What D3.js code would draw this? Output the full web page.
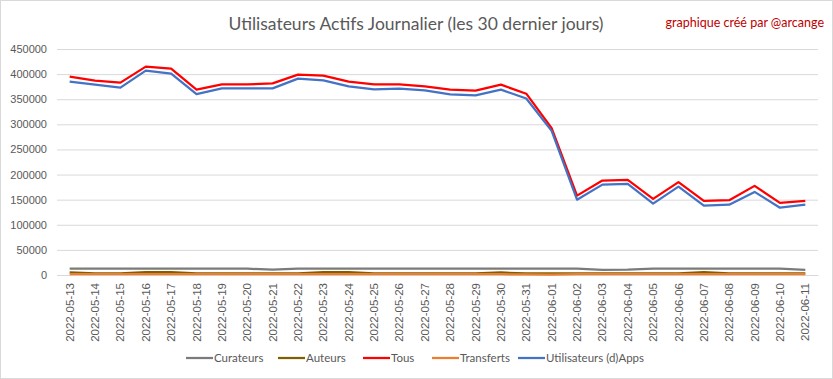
<!DOCTYPE html>
<html>
<head>
<meta charset="utf-8">
<script src="https://cdn.jsdelivr.net/npm/d3@7"></script>
<style>
  body { margin: 0; background: #fff; }
  svg { display: block; font-family: Lato, "Open Sans", sans-serif; }
</style>
</head>
<body>
<svg id="chart" width="833" height="379"></svg>
<script>
// dates on the x axis
const dates = [
  "2022-05-13","2022-05-14","2022-05-15","2022-05-16","2022-05-17","2022-05-18",
  "2022-05-19","2022-05-20","2022-05-21","2022-05-22","2022-05-23","2022-05-24",
  "2022-05-25","2022-05-26","2022-05-27","2022-05-28","2022-05-29","2022-05-30",
  "2022-05-31","2022-06-01","2022-06-02","2022-06-03","2022-06-04","2022-06-05",
  "2022-06-06","2022-06-07","2022-06-08","2022-06-09","2022-06-10","2022-06-11"
];

const curateurs = [12500,12500,12500,12500,12500,12500,12500,12500,10500,12500,12500,12500,
  12500,12500,12500,12500,12500,12500,12500,12500,12500,10000,10500,12500,
  12500,12500,12500,12500,12500,10000];
const auteurs = [5000,3000,3000,5500,5500,3000,3000,3000,3000,3000,5500,5500,
  3000,3000,3000,3000,3000,5000,3000,3000,3000,3000,3000,3000,
  3000,5500,3000,3000,3000,3000];
const tous = [395000,387000,383000,415000,411000,369000,379500,379500,381500,399000,397000,385000,
  379500,379500,375500,369000,367000,379000,361000,292500,158000,188000,189500,151500,
  185000,147500,149000,177500,143500,147500];
const transferts = [1500,1500,1500,1500,1500,1500,1500,1500,1500,1500,1500,1500,
  1500,1500,1500,1500,1500,1500,1000,500,1500,1500,1500,1500,
  1500,1500,1500,1500,1500,1500];
const utilisateurs = [385000,379000,373000,407000,401000,360000,371500,371500,371500,391000,387500,375500,
  369500,371000,367500,359500,357500,369000,351500,287000,150000,180000,181500,142000,
  176000,138000,140000,165500,134000,140000];

const yTicks = [0,50000,100000,150000,200000,250000,300000,350000,400000,450000];

const series = [
  { name: "Curateurs", values: curateurs, color: "#7b7b7b" },
  { name: "Auteurs", values: auteurs, color: "#7f6000" },
  { name: "Tous", values: tous, color: "#ff0000" },
  { name: "Transferts", values: transferts, color: "#ed7d31" },
  { name: "Utilisateurs (d)Apps", values: utilisateurs, color: "#4472c4" }
];

const svg = d3.select("#chart");
const W = 833, H = 379;
const margin = { top: 49, right: 15, bottom: 104, left: 57 };
const width = W - margin.left - margin.right;
const height = H - margin.top - margin.bottom;

// outer border
svg.append("rect")
  .attr("x", 0.5).attr("y", 0.5)
  .attr("width", W - 1).attr("height", H - 1)
  .attr("fill", "#fff").attr("stroke", "#d9d9d9");

svg.append("text")
  .attr("x", 416).attr("y", 30)
  .attr("text-anchor", "middle")
  .attr("fill", "#595959")
  .style("font-size", "17.5px")
  .text("Utilisateurs Actifs Journalier (les 30 dernier jours)");

svg.append("text")
  .attr("x", 824).attr("y", 27)
  .attr("text-anchor", "end")
  .attr("fill", "#c00000")
  .style("font-size", "12.5px")
  .text("graphique créé par @arcange");

const g = svg.append("g")
  .attr("transform", "translate(" + margin.left + "," + margin.top + ")");

const x = d3.scaleBand().domain(dates).range([0, width]);
const y = d3.scaleLinear().domain([0, 450000]).range([height, 0]);

// gridlines + y labels
const yAxis = g.append("g")
  .call(d3.axisLeft(y).tickValues(yTicks).tickSize(-width).tickFormat(d3.format("d")));
yAxis.select(".domain").remove();
yAxis.selectAll(".tick line").attr("stroke", "#d9d9d9");
yAxis.selectAll(".tick text")
  .attr("x", -10)
  .attr("fill", "#595959")
  .style("font-size", "11px");

// x labels
const xAxis = g.append("g")
  .attr("transform", "translate(0," + height + ")")
  .call(d3.axisBottom(x).tickSize(0));
xAxis.select(".domain").attr("stroke", "#d9d9d9");
xAxis.selectAll(".tick text")
  .attr("transform", "rotate(-90)")
  .attr("text-anchor", "end")
  .attr("x", -8).attr("y", 0).attr("dy", "0.35em")
  .attr("fill", "#595959")
  .style("font-size", "11.5px");

const line = d3.line()
  .x((d, i) => x(dates[i]) + x.bandwidth() / 2)
  .y(d => y(d));

series.forEach(s => {
  g.append("path")
    .datum(s.values)
    .attr("fill", "none")
    .attr("stroke", s.color)
    .attr("stroke-width", 2.25)
    .attr("stroke-linejoin", "round")
    .attr("d", line);
});

// legend
const legendX = [186, 278, 363, 432, 518];
const legend = svg.append("g").attr("transform", "translate(0,358)");
series.forEach((s, i) => {
  const item = legend.append("g").attr("transform", "translate(" + legendX[i] + ",0)");
  item.append("line")
    .attr("x1", 0).attr("x2", 27)
    .attr("stroke", s.color).attr("stroke-width", 2.25);
  item.append("text")
    .attr("x", 28).attr("dy", "0.35em")
    .attr("fill", "#595959")
    .style("font-size", "11.5px")
    .text(s.name);
});
</script>
</body>
</html>
